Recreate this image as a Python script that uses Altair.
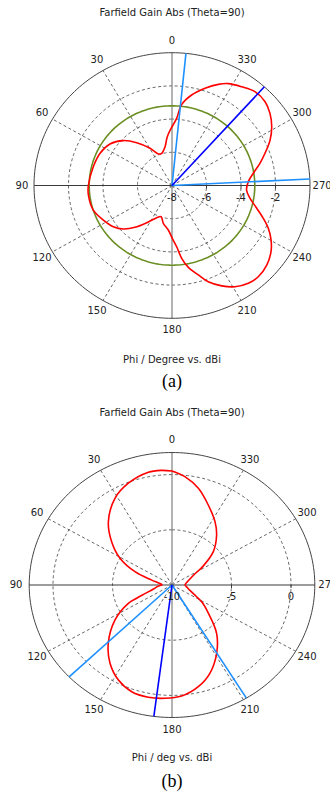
import altair as alt
import pandas as pd
import numpy as np

# ---------------- data ----------------
# (a) Farfield gain, Phi in degrees, gain in dBi
phi_a = [0, 5.3, 9.8, 17.1, 22.7, 29.6, 38.4, 46.2, 55.2, 65.0, 76.1, 90, 96.7, 108,
         117.6, 126.1, 132.9, 139.6, 146.8, 155.4, 161.3, 167.5, 175.4, 180.3, 184.2,
         187.3, 190.9, 195.8, 199.9, 205.5, 210.9, 216.9, 222.3, 228.9, 235.2, 240.3,
         245.2, 249.5, 254.4, 260.3, 266.4, 273, 278.9, 284.7, 289.8, 295.7, 301.5,
         307.4, 313.1, 319.6, 325.8, 332, 336.2, 341.9, 348.2, 353.5, 356.2]
gain_a = [-4.46, -5.05, -5.63, -5.97, -5.94, -5.42, -4.71, -4.09, -3.62, -3.40, -3.30,
          -3.15, -3.12, -3.20, -3.51, -3.79, -4.15, -4.69, -5.32, -5.87, -6.02, -5.67,
          -5.31, -4.82, -4.30, -3.58, -2.98, -2.40, -1.83, -1.30, -0.89, -0.63, -0.57,
          -0.71, -1.01, -1.39, -1.85, -2.35, -2.90, -3.41, -3.67, -3.57, -3.23, -2.73,
          -2.27, -1.69, -1.22, -0.85, -0.61, -0.58, -0.81, -1.05, -1.34, -1.84, -2.43,
          -3.10, -3.95]
level_3db_a = -3.2
main_dir_a = 318.0
bw_dirs_a = [354.2, 272.8]
rmin_a, rmax_a = -8, 0
rgrid_a = [-6, -4, -2]
rlabels_a = [-8, -6, -4, -2]

# (b)
phi_b = [0, 5, 11, 21.7, 31.4, 43, 52.3, 61, 69, 75, 80, 86, 88, 96, 103, 109, 112,
         114.3, 123.5, 134.6, 143.7, 152.4, 160.7, 168.9, 176.7, 184.6, 193.5, 201.7,
         211.2, 220.6, 230, 238, 243, 250, 260, 270, 280, 289, 297, 303, 311, 320.4,
         327.8, 337.2, 345.8, 353.7]
gain_b = [0.33, 0.42, 0.40, -0.08, -0.80, -2.16, -3.59, -5.0, -6.7, -8.2, -8.8, -9.13,
          -9.15, -8.8, -8.4, -7.6, -6.8, -6.0, -4.26, -2.48, -1.2, -0.28, 0.24, 0.36,
          0.28, 0.09, -0.53, -1.39, -2.76, -4.24, -6.0, -7.0, -7.7, -8.3, -8.7, -8.9,
          -8.75, -8.45, -7.9, -6.9, -5.4, -4.12, -3.22, -2.14, -0.97, -0.13]
main_dir_b = 172.7
bw_dirs_b = [133.9, 211.4]
rmin_b, rmax_b = -10, 2
rgrid_b = [-5, 0]
rlabels_b = [-10, -5, 0]

angle_ticks = list(range(0, 360, 30))

FONT = "DejaVu Sans"
TXT = "#222222"
W, H = 330, 794


def xe(field, rmin):
    return f"-(datum.{field} - ({rmin})) * sin(datum.phi * PI / 180)"


def ye(field, rmin):
    return f"(datum.{field} - ({rmin})) * cos(datum.phi * PI / 180)"


def panel(phis, gains, rmin, rmax, rgrid, rlabels, main_dir, bw_dirs, level3,
          title, xlabel, caption, cx, cy, kx, ky, rlab, ty):
    Xs = alt.Scale(domain=[-cx / kx, (W - cx) / kx], nice=False, zero=False)
    Ys = alt.Scale(domain=[-(H - cy) / ky, cy / ky], nice=False, zero=False)

    def X(f):
        return alt.X(f"{f}:Q", scale=Xs, axis=None)

    def Y(f):
        return alt.Y(f"{f}:Q", scale=Ys, axis=None)

    def seg(df, **mk):
        return alt.Chart(df).mark_rule(**mk).transform_calculate(
            x0=xe("v0", rmin), y0=ye("v0", rmin), x1=xe("v1", rmin), y1=ye("v1", rmin)
        ).encode(x=X("x0"), y=Y("y0"), x2="x1:Q", y2="y1:Q")

    ang = np.linspace(0, 360, 241)

    rings = pd.DataFrame([{"phi": a, "val": g, "ring": str(g), "i": k}
                          for g in rgrid for k, a in enumerate(ang)])
    rings_l = alt.Chart(rings).mark_line(color="#555555", strokeWidth=0.9,
                                         strokeDash=[3, 2.5]).transform_calculate(
        x=xe("val", rmin), y=ye("val", rmin)).encode(
        x=X("x"), y=Y("y"), detail="ring:N", order="i:Q")

    outer = pd.DataFrame({"phi": ang, "val": rmax, "i": range(len(ang))})
    outer_l = alt.Chart(outer).mark_line(color="#444444", strokeWidth=1).transform_calculate(
        x=xe("val", rmin), y=ye("val", rmin)).encode(x=X("x"), y=Y("y"), order="i:Q")

    spokes = seg(pd.DataFrame({"phi": [a for a in angle_ticks if a % 90 != 0],
                               "v0": rmin, "v1": rmax}),
                 color="#555555", strokeWidth=0.9, strokeDash=[3, 2.5])
    vax_l = seg(pd.DataFrame({"phi": [0, 180], "v0": rmin, "v1": rmax}),
                color="#808080", strokeWidth=1.2)
    hax_l = seg(pd.DataFrame({"phi": [90, 270], "v0": rmin, "v1": rmax}),
                color="#3a3a3a", strokeWidth=1.1)

    tk = pd.DataFrame({"phi": 270, "val": rgrid})
    ticks = alt.Chart(tk).mark_rule(color="#3a3a3a", strokeWidth=1).transform_calculate(
        x=xe("val", rmin), y=ye("val", rmin)).transform_calculate(
        y2=f"datum.y - {3.0 / ky}").encode(x=X("x"), y=Y("y"), y2="y2:Q")

    layers = [rings_l, spokes, vax_l, hax_l, outer_l, ticks]

    if level3 is not None:
        gc = pd.DataFrame({"phi": ang, "val": level3, "i": range(len(ang))})
        layers.append(alt.Chart(gc).mark_line(color="#6b8e23", strokeWidth=1.6).transform_calculate(
            x=xe("val", rmin), y=ye("val", rmin)).encode(x=X("x"), y=Y("y"), order="i:Q"))

    cur = pd.DataFrame({"phi": list(phis) + [phis[0] + 360],
                        "val": list(gains) + [gains[0]]})
    cur["i"] = range(len(cur))
    layers.append(alt.Chart(cur).mark_line(color="#ff0000", strokeWidth=1.6,
                                           interpolate="catmull-rom").transform_calculate(
        x=xe("val", rmin), y=ye("val", rmin)).encode(x=X("x"), y=Y("y"), order="i:Q"))

    layers.append(seg(pd.DataFrame({"phi": bw_dirs, "v0": rmin, "v1": rmax}),
                      color="#1e90ff", strokeWidth=1.6))
    layers.append(seg(pd.DataFrame({"phi": [main_dir], "v0": rmin, "v1": rmax}),
                      color="#0000ff", strokeWidth=1.6))

    rl = pd.DataFrame({"phi": 270, "val": rlabels, "label": [str(v) for v in rlabels]})
    layers.append(alt.Chart(rl).mark_text(font=FONT, fontSize=10, color=TXT, dy=12,
                                          align="center", baseline="middle").transform_calculate(
        x=xe("val", rmin), y=ye("val", rmin)).encode(x=X("x"), y=Y("y"), text="label:N"))

    al = pd.DataFrame({"phi": angle_ticks, "val": rmin + rlab,
                       "label": [str(a) for a in angle_ticks]})
    layers.append(alt.Chart(al).mark_text(font=FONT, fontSize=10, color=TXT,
                                          align="center", baseline="middle").transform_calculate(
        x=xe("val", rmin), y=ye("val", rmin)).encode(x=X("x"), y=Y("y"), text="label:N"))

    for txt, yy, fnt, fs, col in [(title, ty[0], FONT, 10, TXT),
                                  (xlabel, ty[1], FONT, 10, TXT),
                                  (caption, ty[2], "Liberation Serif", 18, "#000000")]:
        layers.append(alt.Chart(pd.DataFrame({"t": [txt]})).mark_text(
            font=fnt, fontSize=fs, color=col, align="center", baseline="middle").encode(
            x=alt.value(172), y=alt.value(yy), text="t:N"))

    return alt.layer(*layers)


pa = panel(phi_a, gain_a, rmin_a, rmax_a, rgrid_a, rlabels_a, main_dir_a, bw_dirs_a,
           level_3db_a, "Farfield Gain Abs (Theta=90)", "Phi / Degree vs. dBi", "(a)",
           172, 185.5, 17.25, 16.6, 8.7, (13, 360, 382))
pb = panel(phi_b, gain_b, rmin_b, rmax_b, rgrid_b, rlabels_b, main_dir_b, bw_dirs_b,
           None, "Farfield Gain Abs (Theta=90)", "Phi / deg vs. dBi", "(b)",
           172, 585, 11.9, 11.04, 13.1, (413, 758, 782))

chart = alt.layer(pa, pb).resolve_scale(x="independent", y="independent").properties(
    width=W, height=H, padding=0, background="white",
    autosize=alt.AutoSizeParams(type="none"),
).configure_view(stroke=None)

chart.save("out.html", embed_options={"renderer": "svg", "actions": False})
